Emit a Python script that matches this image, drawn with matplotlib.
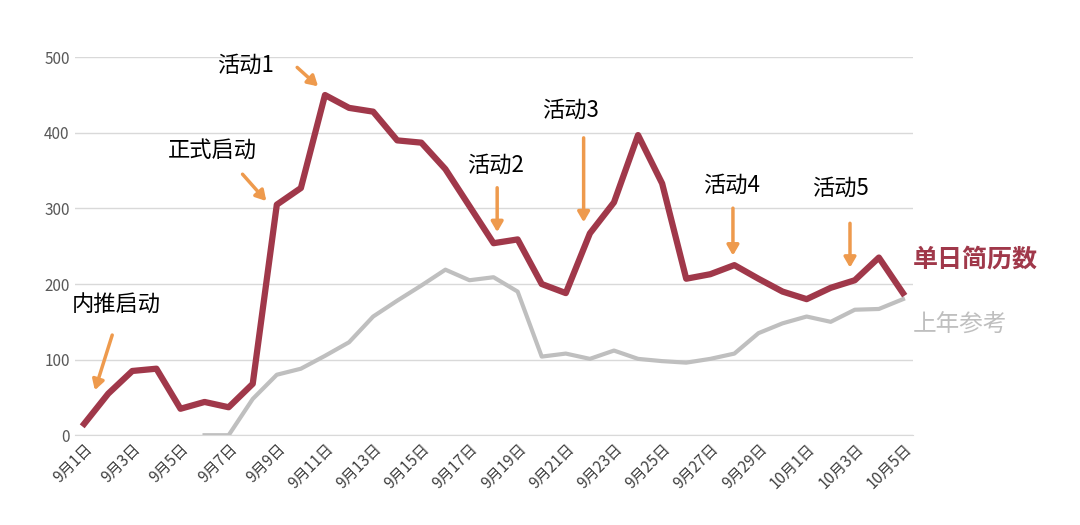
import matplotlib
matplotlib.use("Agg")
import matplotlib.pyplot as plt

dates = [f"9月{d}日" for d in range(1, 31)] + [f"10月{d}日" for d in range(1, 6)]
daily = [15,55,85,88,35,44,37,68,305,327,450,433,428,390,387,352,303,254,259,200,188,
         267,308,397,333,207,213,225,207,190,180,195,205,235,188]
last_year = [None]*5 + [0,0,48,80,88,105,123,157,178,198,219,205,209,190,104,108,101,112,
             101,98,96,101,108,135,148,157,150,166,167,180]
annotations = [("内推启动",(1.33,172),(1.2,136),(0.41,56)),
               ("正式启动",(5.33,377),(6.5,348),(7.64,307)),
               ("活动1",(6.7,489),(8.76,489),(9.8,459)),
               ("活动2",(17.1,357),(17.15,331),(17.15,265)),
               ("活动3",(20.2,430),(20.74,397),(20.74,278)),
               ("活动4",(26.9,331),(26.94,304),(26.94,234)),
               ("活动5",(31.4,327),(31.8,284),(31.8,218))]

plt.rcParams["font.family"] = ["Noto Sans CJK SC", "Noto Sans CJK JP", "Noto Sans CJK TC", "DejaVu Sans"]
fig = plt.figure(figsize=(10.8, 5.25), dpi=100)
ax = fig.add_axes([0.069, 0.171, 0.776, 0.72])
x = list(range(len(dates)))
xs = [i for i, v in zip(x, last_year) if v is not None]
ys = [v for v in last_year if v is not None]
ax.plot(xs, ys, color="#BFBFBF", lw=3)
ax.plot(x, daily, color="#A0384A", lw=4.5)
for t, tp, a0, a1 in annotations:
    ax.text(tp[0], tp[1], t, fontsize=16, ha="center", va="center")
    ax.annotate("", xy=a1, xytext=a0,
                arrowprops=dict(arrowstyle="-|>,head_width=0.35,head_length=0.6", color="#EE9A4D", lw=2.5))
ax.set_xlim(-0.4, len(dates)-0.6)
ax.set_ylim(0, 500)
ax.set_yticks(range(0, 501, 100))
ax.set_xticks(x[::2])
ax.set_xticklabels(dates[::2], rotation=45, ha="right", rotation_mode="anchor", fontsize=11, color="#404040")
ax.tick_params(axis="y", labelsize=11, colors="#595959", length=0)
ax.tick_params(axis="x", length=0)
ax.grid(axis="y", color="#D9D9D9", lw=1)
ax.set_axisbelow(True)
for s in ["top", "right", "left"]:
    ax.spines[s].set_visible(False)
ax.spines["bottom"].set_color("#D9D9D9")
fig.text(0.845, 0.505, "单日简历数", color="#A0384A", fontsize=18, fontweight="bold", va="center")
fig.text(0.845, 0.38, "上年参考", color="#BFBFBF", fontsize=17, va="center")
fig.savefig("out.png", dpi=100)
